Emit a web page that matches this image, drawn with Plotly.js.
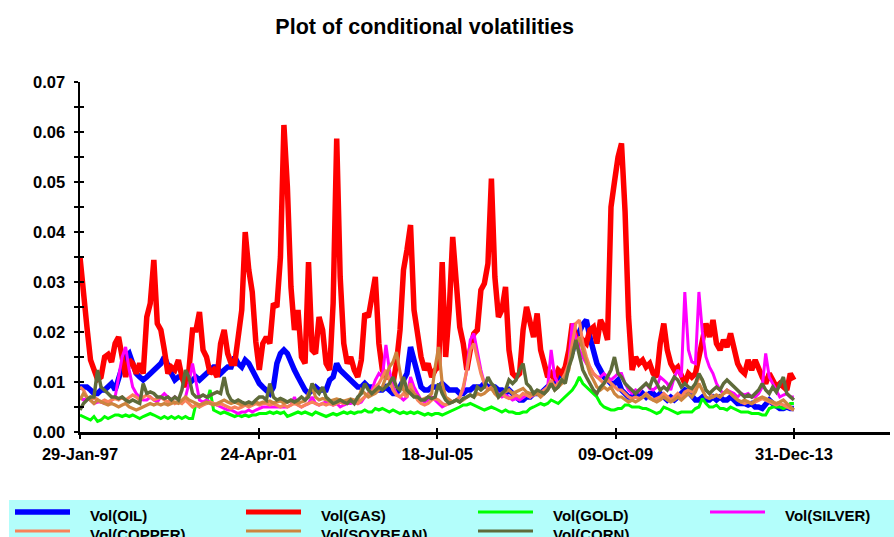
<!DOCTYPE html>
<html>
<head>
<meta charset="utf-8">
<script src="https://cdn.plot.ly/plotly-3.0.1.min.js"></script>
<style>html,body{margin:0;padding:0;background:#fff;}#chart{width:894px;height:537px;}</style>
</head>
<body>
<div id="chart"></div>
<script>
// ---------- data (monthly observations, Jan-1997 .. Dec-2013) ----------
const startDate = '1997-01-29';
const tickDates = ['1997-01-29', '2001-04-24', '2005-07-18', '2009-10-09', '2013-12-31'];
const tickLabels = ['29-Jan-97', '24-Apr-01', '18-Jul-05', '09-Oct-09', '31-Dec-13'];
const seriesNames = ['Vol(OIL)', 'Vol(GAS)', 'Vol(GOLD)', 'Vol(SILVER)', 'Vol(COPPER)', 'Vol(SOYBEAN)', 'Vol(CORN)'];

const volOil = [0.009,0.009,0.009,0.0084,0.0077,0.0077,0.0084,0.0084,0.009,0.0097,
0.0084,0.011,0.013,0.015,0.0157,0.0137,0.0117,0.011,0.0104,0.011,
0.0117,0.0124,0.013,0.0137,0.015,0.013,0.0117,0.0104,0.011,0.011,
0.0097,0.0097,0.0104,0.011,0.0104,0.011,0.0117,0.0124,0.013,0.013,
0.0117,0.0124,0.013,0.013,0.015,0.0137,0.013,0.0144,0.0137,0.0124,
0.011,0.0097,0.009,0.0084,0.0077,0.009,0.0137,0.0157,0.0164,0.0157,
0.0137,0.0124,0.011,0.0097,0.0084,0.0077,0.0084,0.009,0.0084,0.0084,
0.0084,0.0104,0.011,0.0137,0.0124,0.0117,0.011,0.0104,0.0097,0.009,
0.009,0.0097,0.009,0.009,0.0084,0.0084,0.0084,0.009,0.0084,0.0077,
0.0077,0.009,0.0104,0.0117,0.017,0.0144,0.011,0.009,0.0084,0.0084,
0.009,0.009,0.009,0.0097,0.009,0.0084,0.0084,0.0084,0.0077,0.0077,
0.0084,0.0084,0.009,0.009,0.009,0.0097,0.009,0.009,0.009,0.0084,
0.0084,0.0077,0.0084,0.0077,0.007,0.0064,0.0064,0.007,0.007,0.0077,
0.0077,0.0077,0.0084,0.009,0.0097,0.0097,0.011,0.0117,0.0124,0.0144,
0.016,0.019,0.020,0.0215,0.0224,0.019,0.0164,0.0137,0.0124,0.011,
0.0104,0.0097,0.0097,0.0104,0.0084,0.0077,0.007,0.007,0.0077,0.007,
0.0077,0.007,0.0077,0.0077,0.007,0.0077,0.007,0.0064,0.007,0.0064,
0.007,0.0077,0.0084,0.008,0.007,0.0064,0.0064,0.007,0.0064,0.0064,
0.007,0.0064,0.007,0.0064,0.0064,0.007,0.0064,0.0057,0.0057,0.0057,
0.0054,0.0057,0.005,0.005,0.0047,0.0057,0.0064,0.0057,0.005,0.0047,
0.0047,0.005,0.0047,0.0047];

const volGas = [0.035,0.029,0.021,0.0144,0.0124,0.0105,0.011,0.015,0.0155,0.014,
0.0177,0.019,0.015,0.011,0.0144,0.0137,0.0117,0.0137,0.0117,0.023,
0.0257,0.0344,0.0217,0.0204,0.0164,0.0117,0.013,0.0124,0.0144,0.011,
0.009,0.0124,0.0204,0.0204,0.024,0.0164,0.015,0.0117,0.0124,0.011,
0.0177,0.0204,0.0157,0.0137,0.0137,0.019,0.0244,0.040,0.0324,0.028,
0.018,0.0124,0.0177,0.019,0.0177,0.0257,0.025,0.035,0.0614,0.049,
0.029,0.0204,0.0244,0.015,0.0137,0.034,0.0164,0.0157,0.023,0.0204,
0.0137,0.0124,0.0257,0.0587,0.031,0.0177,0.0137,0.015,0.0124,0.011,
0.0144,0.0237,0.023,0.027,0.031,0.0177,0.0124,0.011,0.011,0.0097,
0.0137,0.0204,0.0324,0.0364,0.0414,0.0244,0.019,0.015,0.0124,0.0137,
0.011,0.0124,0.013,0.034,0.015,0.0244,0.039,0.0277,0.021,0.0177,
0.0124,0.0164,0.0197,0.0204,0.0284,0.0297,0.0337,0.0507,0.031,0.023,
0.0244,0.029,0.0164,0.0117,0.011,0.0117,0.0204,0.025,0.0217,0.019,
0.0237,0.0164,0.0137,0.011,0.0117,0.0104,0.0124,0.0117,0.013,0.0164,
0.0217,0.019,0.0177,0.0184,0.0177,0.0204,0.021,0.0177,0.0224,0.021,
0.0184,0.045,0.050,0.055,0.0577,0.044,0.023,0.0124,0.015,0.0137,
0.0144,0.013,0.0137,0.0117,0.011,0.0177,0.0217,0.0164,0.0137,0.0124,
0.013,0.011,0.0097,0.0117,0.011,0.0117,0.015,0.0177,0.0217,0.019,
0.0224,0.0177,0.0164,0.0184,0.017,0.0197,0.0164,0.0137,0.0124,0.0117,
0.0144,0.0124,0.0144,0.0124,0.011,0.0097,0.0117,0.0104,0.009,0.0097,
0.009,0.0084,0.0117,0.0104];

const volGold = [0.0034,0.0031,0.0027,0.0024,0.0031,0.0021,0.0024,0.0031,0.0027,0.0031,
0.0034,0.0034,0.0031,0.0034,0.0031,0.0034,0.0031,0.0027,0.0031,0.0034,
0.0037,0.0034,0.0031,0.0027,0.0031,0.0027,0.0031,0.0027,0.0031,0.0027,
0.0031,0.0027,0.0027,0.0057,0.005,0.0057,0.0057,0.0084,0.0044,0.004,
0.0037,0.004,0.0037,0.0034,0.0031,0.0034,0.0031,0.0034,0.0031,0.0034,
0.0034,0.0037,0.0037,0.0037,0.004,0.0037,0.004,0.0037,0.004,0.0031,
0.0034,0.0037,0.004,0.0037,0.004,0.0037,0.0034,0.004,0.0037,0.0034,
0.0031,0.0034,0.0037,0.0034,0.0037,0.004,0.0037,0.004,0.0037,0.004,
0.004,0.0044,0.004,0.004,0.0047,0.0044,0.0047,0.0044,0.004,0.0044,
0.004,0.0037,0.004,0.0037,0.004,0.0037,0.004,0.0037,0.0034,0.0037,
0.0034,0.0037,0.0037,0.0034,0.0037,0.004,0.0044,0.0047,0.005,0.0054,
0.0054,0.0057,0.0054,0.005,0.0047,0.0044,0.0047,0.005,0.0047,0.0044,
0.004,0.0044,0.004,0.004,0.0037,0.0037,0.004,0.004,0.0047,0.005,
0.0054,0.0057,0.0054,0.0057,0.0064,0.006,0.0057,0.0064,0.007,0.0077,
0.0084,0.0095,0.011,0.0097,0.009,0.0084,0.0077,0.007,0.0057,0.005,
0.0047,0.0044,0.0044,0.0047,0.0047,0.0054,0.0054,0.005,0.005,0.005,
0.0047,0.0047,0.0044,0.004,0.0037,0.004,0.005,0.0047,0.0044,0.004,
0.0037,0.004,0.004,0.004,0.004,0.0047,0.005,0.0067,0.0057,0.005,
0.005,0.0054,0.0047,0.0047,0.0044,0.005,0.0047,0.0044,0.004,0.004,
0.004,0.0037,0.0037,0.0037,0.0034,0.0034,0.0047,0.005,0.005,0.005,
0.0047,0.005,0.0057,0.0057];

const volSilver = [0.007,0.0064,0.0067,0.0064,0.0057,0.006,0.006,0.0057,0.0057,0.0064,
0.007,0.011,0.015,0.017,0.0124,0.009,0.0077,0.007,0.0064,0.0064,
0.007,0.0064,0.006,0.007,0.0077,0.007,0.0064,0.007,0.0064,0.006,
0.007,0.0097,0.0137,0.0097,0.0064,0.006,0.0064,0.006,0.0057,0.0054,
0.005,0.0047,0.0044,0.0044,0.004,0.0037,0.004,0.004,0.0044,0.004,
0.0044,0.0047,0.005,0.005,0.005,0.005,0.005,0.005,0.005,0.005,
0.0054,0.007,0.0054,0.005,0.0054,0.0057,0.007,0.0057,0.0054,0.0057,
0.006,0.0057,0.0054,0.0057,0.005,0.0054,0.0057,0.0057,0.006,0.0057,
0.006,0.007,0.0077,0.0084,0.0104,0.0117,0.011,0.0174,0.0124,0.009,
0.0077,0.007,0.0064,0.007,0.011,0.009,0.0077,0.0064,0.006,0.0064,
0.007,0.0064,0.0057,0.005,0.0054,0.0057,0.006,0.0064,0.007,0.0084,
0.0124,0.0184,0.0197,0.0157,0.0124,0.0097,0.0084,0.009,0.0084,0.0077,
0.007,0.0074,0.007,0.0064,0.0067,0.0064,0.007,0.0074,0.007,0.0074,
0.0077,0.008,0.0084,0.009,0.0164,0.011,0.0097,0.0104,0.011,0.0137,
0.0217,0.019,0.0164,0.015,0.0137,0.013,0.0117,0.011,0.011,0.0117,
0.011,0.0104,0.011,0.0117,0.0117,0.0097,0.0084,0.0077,0.0084,0.008,
0.009,0.0097,0.0087,0.0084,0.009,0.011,0.0104,0.0097,0.0084,0.011,
0.0124,0.011,0.028,0.0164,0.014,0.0137,0.028,0.020,0.015,0.013,
0.0117,0.0097,0.0084,0.0077,0.0084,0.008,0.0077,0.007,0.0077,0.0074,
0.0077,0.007,0.007,0.0077,0.009,0.0157,0.011,0.0097,0.0084,0.007,
0.0074,0.0077,0.007,0.007];

const volCopper = [0.009,0.0084,0.007,0.0064,0.007,0.0064,0.006,0.0064,0.006,0.0064,
0.0067,0.0064,0.007,0.0064,0.007,0.0074,0.007,0.0064,0.007,0.0074,
0.007,0.0064,0.0067,0.007,0.0064,0.006,0.0064,0.0057,0.006,0.0057,
0.0064,0.0057,0.005,0.0054,0.005,0.0054,0.0057,0.006,0.0057,0.0054,
0.0057,0.0054,0.005,0.0047,0.005,0.0047,0.005,0.0054,0.005,0.0054,
0.0057,0.0054,0.0057,0.0057,0.0054,0.0057,0.0054,0.005,0.0054,0.005,
0.0054,0.0057,0.0054,0.005,0.0054,0.0057,0.006,0.0057,0.0054,0.0057,
0.0054,0.0057,0.0054,0.0057,0.006,0.0057,0.006,0.0064,0.006,0.0057,
0.0064,0.007,0.0077,0.008,0.009,0.0097,0.011,0.0124,0.0104,0.0084,
0.0074,0.007,0.0077,0.007,0.0097,0.0077,0.0064,0.0057,0.0054,0.0057,
0.0064,0.0067,0.0064,0.0057,0.0054,0.0057,0.006,0.0064,0.007,0.009,
0.0124,0.0164,0.0177,0.0144,0.0117,0.0097,0.0084,0.009,0.0077,0.007,
0.0077,0.007,0.0067,0.007,0.0074,0.007,0.0077,0.0074,0.007,0.0077,
0.008,0.0077,0.0084,0.009,0.0104,0.009,0.0097,0.0104,0.0117,0.0137,
0.0177,0.0217,0.0224,0.0177,0.015,0.013,0.0117,0.011,0.0104,0.0097,
0.0104,0.0097,0.009,0.0084,0.0084,0.0077,0.007,0.0067,0.007,0.0067,
0.007,0.0077,0.007,0.0064,0.0067,0.007,0.0077,0.007,0.0064,0.007,
0.0077,0.007,0.008,0.0084,0.008,0.009,0.011,0.0104,0.0084,0.0077,
0.007,0.0074,0.007,0.0077,0.008,0.0077,0.007,0.0064,0.006,0.0057,
0.006,0.0057,0.006,0.0064,0.0067,0.0064,0.006,0.0057,0.0054,0.0057,
0.0054,0.005,0.0047,0.0044];

const volSoybean = [0.0064,0.0077,0.007,0.0064,0.0057,0.0064,0.006,0.0057,0.0054,0.0057,
0.0054,0.005,0.0054,0.0057,0.005,0.0047,0.0044,0.0047,0.005,0.0054,
0.0057,0.0054,0.0057,0.0054,0.0057,0.0054,0.0057,0.006,0.0057,0.0064,
0.007,0.0064,0.006,0.0057,0.0054,0.0057,0.006,0.0057,0.0054,0.0057,
0.006,0.0064,0.006,0.0057,0.006,0.0057,0.0054,0.0057,0.0054,0.0057,
0.006,0.0057,0.006,0.006,0.0062,0.0058,0.006,0.0062,0.0058,0.006,
0.0062,0.006,0.0058,0.006,0.0062,0.0077,0.009,0.007,0.0064,0.0067,
0.0064,0.0062,0.0064,0.0066,0.0064,0.0062,0.0064,0.0066,0.0064,0.0064,
0.0084,0.0077,0.007,0.0074,0.0077,0.0084,0.009,0.011,0.013,0.014,
0.016,0.012,0.0084,0.0077,0.0084,0.0077,0.007,0.0064,0.0067,0.007,
0.0077,0.013,0.017,0.0097,0.007,0.0064,0.006,0.0064,0.006,0.0064,
0.007,0.0074,0.007,0.0077,0.0074,0.0077,0.0084,0.0087,0.0077,0.007,
0.0077,0.008,0.0084,0.0077,0.008,0.0084,0.0087,0.008,0.0077,0.0074,
0.0077,0.007,0.0077,0.0084,0.0097,0.0084,0.009,0.0097,0.011,0.0124,
0.0164,0.0177,0.019,0.0164,0.0137,0.0117,0.0104,0.009,0.0084,0.009,
0.0084,0.009,0.0077,0.007,0.007,0.0064,0.006,0.0064,0.006,0.0064,
0.007,0.0074,0.0067,0.0064,0.006,0.0064,0.007,0.0064,0.006,0.0064,
0.007,0.0064,0.007,0.0077,0.007,0.008,0.0097,0.0084,0.007,0.0067,
0.007,0.0074,0.007,0.0077,0.0084,0.0077,0.007,0.0064,0.006,0.0064,
0.006,0.0057,0.0064,0.0067,0.007,0.0067,0.0064,0.006,0.0057,0.006,
0.0064,0.0057,0.005,0.0044];

const volCorn = [0.0044,0.0057,0.0064,0.007,0.007,0.0124,0.009,0.0084,0.0077,0.007,
0.007,0.0067,0.007,0.0064,0.006,0.0064,0.006,0.0057,0.0097,0.0077,
0.008,0.0077,0.007,0.007,0.0067,0.007,0.0064,0.007,0.0064,0.0084,
0.0124,0.011,0.0077,0.007,0.007,0.0074,0.007,0.0074,0.0077,0.008,
0.0077,0.011,0.0077,0.0064,0.006,0.0064,0.006,0.0057,0.006,0.0057,
0.0064,0.007,0.007,0.0064,0.0097,0.007,0.0064,0.0067,0.0064,0.006,
0.0064,0.006,0.0064,0.007,0.0064,0.007,0.0097,0.0084,0.0077,0.009,
0.007,0.0064,0.0057,0.006,0.0064,0.006,0.0057,0.0064,0.0057,0.007,
0.0077,0.0097,0.0084,0.0077,0.0084,0.009,0.0084,0.009,0.0097,0.011,
0.009,0.0084,0.011,0.0084,0.0077,0.007,0.007,0.0064,0.0064,0.007,
0.0067,0.007,0.0097,0.0077,0.0064,0.0057,0.006,0.0064,0.006,0.0067,
0.007,0.0074,0.007,0.009,0.0084,0.009,0.011,0.0097,0.009,0.007,
0.0077,0.0084,0.0104,0.0097,0.0104,0.0124,0.0137,0.0097,0.009,0.0077,
0.0084,0.008,0.0077,0.0084,0.0097,0.0084,0.009,0.0104,0.0097,0.013,
0.015,0.0184,0.015,0.0124,0.011,0.0097,0.0084,0.0077,0.009,0.0097,
0.011,0.0124,0.015,0.0117,0.011,0.0097,0.009,0.0084,0.0077,0.0084,
0.009,0.0097,0.009,0.011,0.0097,0.0084,0.009,0.0084,0.0097,0.011,
0.0104,0.009,0.0097,0.009,0.0087,0.0097,0.0117,0.0104,0.0084,0.0077,
0.0084,0.009,0.0084,0.0097,0.0104,0.0097,0.009,0.0084,0.0077,0.007,
0.0074,0.007,0.0077,0.0084,0.0097,0.0084,0.0077,0.009,0.008,0.0097,
0.011,0.0077,0.007,0.0064];

// ---------- styling ----------
const seriesValues = [volOil, volGas, volGold, volSilver, volCopper, volSoybean, volCorn];
const seriesColors = ['#0000ff', '#ff0000', '#00ff00', '#ff00ff', '#f8825a', '#cd853f', '#5e6b3a'];
const seriesWidths = [5.5, 5.5, 3, 3, 3.2, 3.2, 3.5];
const legendWidths = [5.5, 5, 3, 3, 3, 3, 3];
const FONT = 'Liberation Sans, Arial, Helvetica, sans-serif';

// monthly date stamps for the observations
const DAY = 86400000;
const t0 = Date.parse(startDate + 'T00:00:00Z');
const dates = volGas.map((_, i) => new Date(t0 + i * 30.44 * DAY).toISOString().slice(0, 10));

const traces = seriesValues.map((vals, k) => ({
  type: 'scatter', mode: 'lines', name: seriesNames[k],
  x: dates, y: vals,
  line: {color: seriesColors[k], width: seriesWidths[k]},
  hoverinfo: 'x+y+name', showlegend: false
}));
// empty trace to make the overlay (inside-tick) axes render
traces.push({type: 'scatter', mode: 'lines', x: [], y: [], xaxis: 'x2', yaxis: 'y2', showlegend: false, hoverinfo: 'skip'});

// pixel helpers for the hand-built legend box
const L = 80, T = 82, W = 810, H = 350;
const pxX = x => (x - L) / W;
const pxY = y => (T + H - y) / H;

const shapes = [{
  type: 'rect', xref: 'paper', yref: 'paper',
  x0: pxX(9), x1: pxX(900), y0: pxY(500), y1: pxY(545),
  fillcolor: '#b3fefb', line: {width: 0}, layer: 'above'
}];
const annotations = [];
const colLine = [15, 246, 478, 710];
const rowLine = [512, 531];
const rowText = [515, 534];
seriesNames.forEach((nm, k) => {
  const c = k % 4, r = Math.floor(k / 4);
  shapes.push({
    type: 'line', xref: 'paper', yref: 'paper',
    x0: pxX(colLine[c]), x1: pxX(colLine[c] + 55),
    y0: pxY(rowLine[r]), y1: pxY(rowLine[r]),
    line: {color: seriesColors[k], width: legendWidths[k]}, layer: 'above'
  });
  annotations.push({
    xref: 'paper', yref: 'paper', x: pxX(colLine[c] + 73), y: pxY(rowText[r]),
    xanchor: 'left', yanchor: 'middle', showarrow: false, text: nm,
    font: {family: FONT, size: 15, color: '#000', weight: 700}
  });
});

const tickFont = {family: FONT, size: 16.5, color: '#000', weight: 700};
const xRange = ['1997-01-29', '2016-04-10'];

const layout = {
  width: 894, height: 537,
  margin: {l: L, r: 894 - L - W, t: T, b: 537 - T - H, pad: 0},
  paper_bgcolor: '#fff', plot_bgcolor: '#fff',
  showlegend: false,
  title: {
    text: 'Plot of conditional volatilities',
    font: {family: FONT, size: 21.5, color: '#000', weight: 700},
    x: 0.475, xref: 'container', xanchor: 'center',
    y: 1 - 26 / 537, yref: 'container', yanchor: 'middle'
  },
  xaxis: {
    type: 'date', range: xRange, tickmode: 'array', tickvals: tickDates, ticktext: tickLabels,
    ticks: 'outside', ticklen: 4, tickwidth: 2, tickcolor: '#000',
    showline: true, linewidth: 2.5, linecolor: '#000', mirror: false,
    showgrid: false, zeroline: false, tickfont: tickFont, ticklabelstandoff: 2, fixedrange: true
  },
  xaxis2: {
    type: 'date', range: xRange, overlaying: 'x', anchor: 'y', side: 'bottom',
    tickmode: 'array', tickvals: tickDates, ticks: 'inside', ticklen: 4, tickwidth: 2, tickcolor: '#000',
    showticklabels: false, showline: false, showgrid: false, zeroline: false, fixedrange: true
  },
  yaxis: {
    range: [0, 0.07], tick0: 0, dtick: 0.01, tickformat: '.2f',
    ticks: 'outside', ticklen: 4, tickwidth: 2, tickcolor: '#000',
    minor: {dtick: 0.005, ticks: 'outside', ticklen: 4, tickwidth: 2, tickcolor: '#000', showgrid: false},
    showline: true, linewidth: 2.5, linecolor: '#000',
    showgrid: false, zeroline: false, tickfont: tickFont, ticklabelstandoff: 5, fixedrange: true
  },
  yaxis2: {
    range: [0, 0.07], tick0: 0, dtick: 0.01, overlaying: 'y', anchor: 'x', side: 'left',
    ticks: 'inside', ticklen: 4, tickwidth: 2, tickcolor: '#000',
    minor: {dtick: 0.005, ticks: 'inside', ticklen: 4, tickwidth: 2, tickcolor: '#000', showgrid: false},
    showticklabels: false, showline: false, showgrid: false, zeroline: false, fixedrange: true
  },
  shapes: shapes,
  annotations: annotations
};

Plotly.newPlot('chart', traces, layout, {displayModeBar: false, staticPlot: true});
</script>
</body>
</html>
